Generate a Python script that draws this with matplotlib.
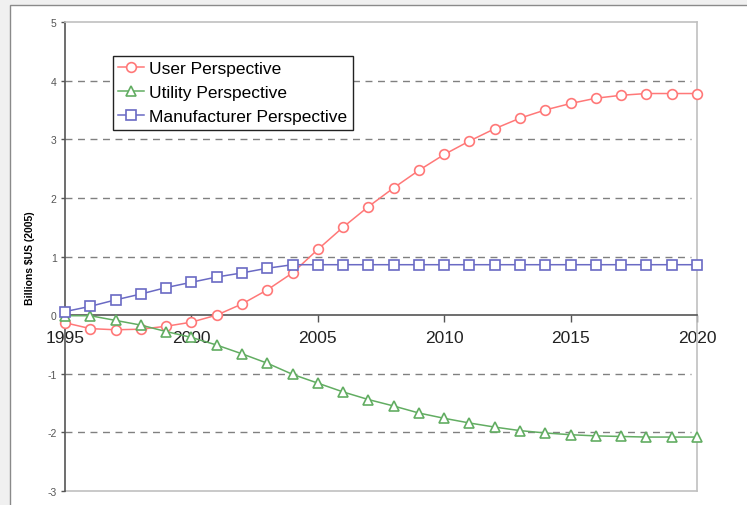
import matplotlib.pyplot as plt
from matplotlib.patches import Rectangle

years = list(range(1995, 2021))
user = [-0.13, -0.23, -0.25, -0.24, -0.19, -0.12, 0.0, 0.19, 0.43, 0.72,
        1.12, 1.50, 1.85, 2.17, 2.47, 2.74, 2.97, 3.18, 3.36, 3.50,
        3.61, 3.70, 3.75, 3.78, 3.78, 3.78]
utility = [-0.01, -0.01, -0.09, -0.17, -0.28, -0.38, -0.51, -0.66, -0.82, -1.01,
           -1.16, -1.31, -1.44, -1.55, -1.67, -1.76, -1.84, -1.91, -1.97, -2.01,
           -2.04, -2.06, -2.07, -2.08, -2.08, -2.08]
manufacturer = [0.06, 0.15, 0.26, 0.36, 0.47, 0.56, 0.65, 0.72, 0.80, 0.86,
                0.86, 0.86, 0.86, 0.86, 0.86, 0.86, 0.86, 0.86, 0.86, 0.86,
                0.86, 0.86, 0.86, 0.86, 0.86, 0.86]
series_names = ['User Perspective', 'Utility Perspective', 'Manufacturer Perspective']
x_ticks = [1995, 2000, 2005, 2010, 2015, 2020]
y_ticks = [-3, -2, -1, 0, 1, 2, 3, 4, 5]
grid_levels = [-2, -1, 1, 2, 3, 4]

plt.rcParams['font.family'] = ['Liberation Sans', 'DejaVu Sans']
plt.rcParams['axes.unicode_minus'] = False

fig = plt.figure(figsize=(7.47, 5.06), dpi=100)
fig.patch.set_facecolor('#f0f0f0')
# white page with a grey border on the left and top
fig.patches.append(Rectangle((10 / 747, -0.1), 1.1, 1.1 - 6 / 506,
                             transform=fig.transFigure, facecolor='white',
                             edgecolor='#8a8a8a', linewidth=1.0, zorder=-1))

ax = fig.add_axes([65 / 747, 1 - 492 / 506, 632 / 747, 469 / 506])
ax.set_xlim(1995, 2020)
ax.set_ylim(-3, 5)

for lv in grid_levels:
    ax.axhline(lv, xmin=0, xmax=0.99, color='#808080', linestyle=(0, (5, 4)),
               linewidth=1.0, zorder=1)
ax.axhline(-3, color='#c0c0c0', linewidth=1.2, clip_on=False, zorder=1)

ax.plot(years, user, color='#ff7878', marker='o', markersize=7,
        markerfacecolor='white', markeredgewidth=1.2, linewidth=1.1,
        label=series_names[0], clip_on=False, zorder=3)
ax.plot(years, utility, color='#62ad62', marker='^', markersize=7.5,
        markerfacecolor='white', markeredgewidth=1.2, linewidth=1.1,
        label=series_names[1], clip_on=False, zorder=3)
ax.plot(years, manufacturer, color='#6a6ac4', marker='s', markersize=7,
        markerfacecolor='white', markeredgewidth=1.2, linewidth=1.1,
        label=series_names[2], clip_on=False, zorder=3)

# spines
ax.spines['bottom'].set_position(('data', 0))
ax.spines['bottom'].set_color('#555555')
ax.spines['bottom'].set_linewidth(1.2)
ax.spines['left'].set_color('#555555')
ax.spines['left'].set_linewidth(1.2)
ax.spines['top'].set_color('#c0c0c0')
ax.spines['right'].set_color('#c0c0c0')
ax.spines['top'].set_linewidth(1.2)
ax.spines['right'].set_linewidth(1.2)

ax.set_xticks(x_ticks)
ax.set_xticklabels([str(t) for t in x_ticks])
ax.tick_params(axis='x', direction='out', length=5, width=1, color='#555555',
               labelsize=12.5, labelcolor='#222222', pad=6)
ax.set_yticks(y_ticks)
ax.tick_params(axis='y', direction='out', length=3, width=1, color='#555555',
               labelsize=7.5, labelcolor='#555555', pad=3)

fig.text(30 / 747, 1 - 258 / 506, 'Billions $US (2005)', rotation=90,
         fontsize=7.5, fontweight='bold', ha='center', va='center')

leg = ax.legend(loc='upper left', bbox_to_anchor=(0.076, 0.928), borderaxespad=0,
                fontsize=12.5, frameon=True, fancybox=False, handlelength=1.5,
                handletextpad=0.3, labelspacing=0.52, borderpad=0.3)
leg.get_frame().set_edgecolor('#222222')
leg.get_frame().set_linewidth(1.0)
leg.get_frame().set_alpha(1)

fig.savefig('out.png', dpi=100, facecolor=fig.get_facecolor())
